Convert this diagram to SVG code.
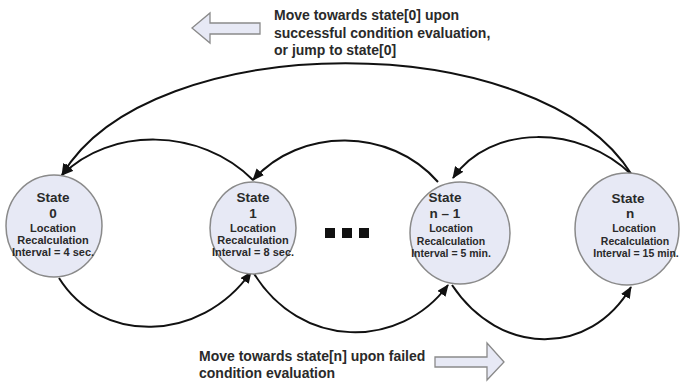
<svg xmlns="http://www.w3.org/2000/svg" width="681" height="386" viewBox="0 0 681 386">
<style>
.st{fill:#e7e9f5;stroke:#8a8a8a;stroke-width:1.5}
.t{font-family:"Liberation Sans",Arial,sans-serif;font-weight:bold;fill:#2a2a2a;text-anchor:middle}
.big{font-size:13.5px}
.sm{font-size:11px}
.sm2{font-size:10.5px}
.lbl{font-family:"Liberation Sans",Arial,sans-serif;font-weight:bold;font-size:14px;fill:#2a2a2a}
.c{fill:none;stroke:#111;stroke-width:2}
.blk{fill:#e7e9f5;stroke:#8a8a8a;stroke-width:1.3}
</style>
<defs>
<marker id="ah" viewBox="0 0 12 10" refX="11" refY="5" markerWidth="12" markerHeight="10" markerUnits="userSpaceOnUse" orient="auto">
<path d="M0,0 L12,5 L0,10 z" fill="#111"/>
</marker>
</defs>
<rect width="681" height="386" fill="#fff"/>

<g id="top-label">
<polygon class="blk" points="192,28 210,13 210,23 260,23 260,34 210,34 210,43"/>
<text class="lbl" x="274" y="20">Move towards state[0] upon</text>
<text class="lbl" x="274" y="37.5">successful condition evaluation,</text>
<text class="lbl" x="274" y="55">or jump to state[0]</text>
</g>

<g id="bottom-label">
<polygon class="blk" points="504,362 487,343 487,357 435,357 435,367 487,367 487,380"/>
<text class="lbl" x="199" y="361">Move towards state[n] upon failed</text>
<text class="lbl" x="199" y="378">condition evaluation</text>
</g>

<g id="connectors">
<path class="c" marker-end="url(#ah)" d="M632,175 C540,26 150,26 62,175"/>
<path class="c" marker-end="url(#ah)" d="M253,180 C200,127 110,127 62,175"/>
<path class="c" marker-end="url(#ah)" d="M438,182 C390,127 300,127 253,180"/>
<path class="c" marker-end="url(#ah)" d="M632,175 C580,124 490,124 453,178"/>
<path class="c" marker-end="url(#ah)" d="M59,278 C100,344 200,344 251,272"/>
<path class="c" marker-end="url(#ah)" d="M253,272 C300,350 400,350 448,285"/>
<path class="c" marker-end="url(#ah)" d="M452,285 C500,357 590,357 631,287"/>
</g>

<g id="state0">
<ellipse class="st" cx="54" cy="226" rx="48" ry="51"/>
<text class="t big" x="53" y="202">State</text>
<text class="t big" x="53" y="218">0</text>
<text class="t sm" x="53" y="232">Location</text>
<text class="t sm" x="53" y="244">Recalculation</text>
<text class="t sm" x="53" y="256">Interval = 4 sec.</text>
</g>

<g id="state1">
<ellipse class="st" cx="253" cy="228" rx="43" ry="46"/>
<text class="t big" x="253" y="202">State</text>
<text class="t big" x="253" y="218">1</text>
<text class="t sm" x="253" y="232">Location</text>
<text class="t sm" x="253" y="244">Recalculation</text>
<text class="t sm" x="253" y="256">Interval = 8 sec.</text>
</g>

<g id="ellipsis">
<rect x="325" y="228" width="10" height="10" fill="#111"/>
<rect x="342" y="228" width="10" height="10" fill="#111"/>
<rect x="359" y="228" width="10" height="10" fill="#111"/>
</g>

<g id="state-n-1">
<ellipse class="st" cx="460" cy="233" rx="50" ry="51"/>
<text class="t big" x="445" y="202">State</text>
<text class="t big" x="445" y="218">n – 1</text>
<text class="t sm2" x="451" y="232">Location</text>
<text class="t sm2" x="451" y="245">Recalculation</text>
<text class="t sm2" x="451" y="257">Interval = 5 min.</text>
</g>

<g id="state-n">
<ellipse class="st" cx="627" cy="229" rx="52" ry="56"/>
<text class="t big" x="628" y="203">State</text>
<text class="t big" x="630" y="218">n</text>
<text class="t sm2" x="634" y="232">Location</text>
<text class="t sm2" x="635" y="245">Recalculation</text>
<text class="t sm2" x="636" y="257">Interval = 15 min.</text>
</g>
</svg>
